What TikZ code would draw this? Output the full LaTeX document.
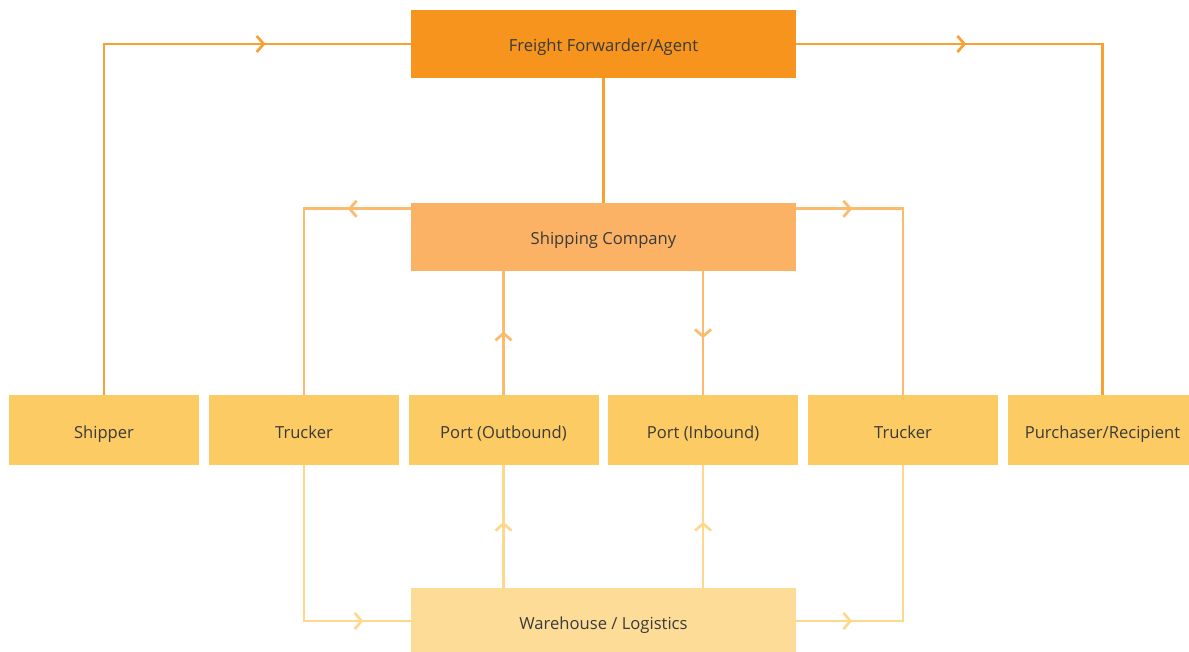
\documentclass[tikz,border=0pt]{standalone}
\usepackage{fontspec}
\setmainfont{Open Sans}
\usetikzlibrary{arrows.meta,decorations.markings}

\definecolor{ffFill}{HTML}{F7941D}
\definecolor{ffLine}{HTML}{F8A132}
\definecolor{scFill}{HTML}{FBB264}
\definecolor{scLine}{HTML}{FCBA6C}
\definecolor{rowFill}{HTML}{FDCB63}
\definecolor{whFill}{HTML}{FDDC98}
\definecolor{whLine}{HTML}{FED88C}
\definecolor{txt}{HTML}{3A3A3A}

\begin{document}
\begin{tikzpicture}[x=1pt,y=-1pt,
  box/.style={draw=none, inner sep=0pt, text=txt, text height=16pt, text depth=0pt,
    font=\fontsize{16.6}{20}\selectfont},
  wide/.style={box, minimum width=385pt, minimum height=68pt},
  cell/.style={box, fill=rowFill, minimum width=190pt, minimum height=70.5pt},
  conn/.style={line width=2.7pt},
  topline/.style={conn, draw=ffLine},
  scline/.style={conn, draw=scLine},
  whline/.style={conn, draw=whLine},
  midtip/.style={postaction={decorate,decoration={markings,
    mark=at position #1 with {\arrow[line width=2.7pt]{Straight Barb[length=7pt,width=16pt]}}}}}
]
\clip (0,0) rectangle (1189,652);
\useasboundingbox (0,0) rectangle (1189,652);

% boxes
\node[wide, fill=ffFill] (ff) at (603.5,44) {Freight Forwarder/Agent};
\node[wide, fill=scFill] (sc) at (603.5,237) {Shipping Company};
\node[wide, fill=whFill, minimum height=66pt] (wh) at (603.5,621) {Warehouse / Logistics};

\node[cell] (shipper) at (104,430) {Shipper};
\node[cell] (truckA) at (304,430) {Trucker};
\node[cell] (portout) at (503.5,430) {Port (Outbound)};
\node[cell] (portin) at (703,430) {Port (Inbound)};
\node[cell] (truckB) at (903,430) {Trucker};
\node[cell] (purch) at (1102.5,430) {Purchaser/Recipient};

% forwarder links
\draw[topline, midtip=512pt] (shipper.north) |- (ff.west);
\draw[topline, midtip=170pt] (ff.east) -| (purch.north);
\draw[topline] (ff.south) -- (sc.north);

% shipping company links
\coordinate (scL) at ([yshift=-6pt]sc.north west);
\coordinate (scR) at ([yshift=-6pt]sc.north east);
\draw[scline, midtip=63pt] (scL) -| (truckA.north);
\draw[scline, midtip=56pt] (scR) -| (truckB.north);
\draw[scline, midtip=63pt] (portout.north) -- (portout.north |- sc.south);
\draw[scline, midtip=67pt] (sc.south -| portin.north) -- (portin.north);

% warehouse links
\draw[whline, midtip=215pt] (truckA.south) |- (wh.west);
\draw[whline, midtip=66pt] (wh.north -| portout.south) -- (portout.south);
\draw[whline, midtip=66pt] (wh.north -| portin.south) -- (portin.south);
\draw[whline, midtip=56pt] (wh.east) -| (truckB.south);
\end{tikzpicture}
\end{document}
